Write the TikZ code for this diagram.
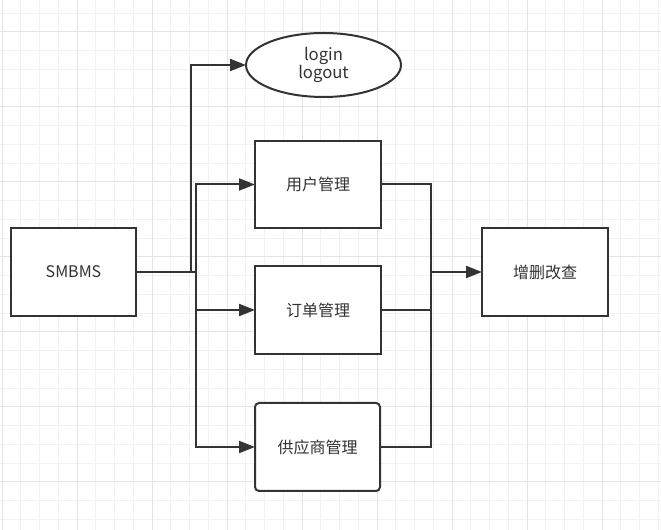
\documentclass[tikz,border=0pt]{standalone}
\usepackage{fontspec}
\newfontfamily\cjk{Noto Sans CJK SC}
\usetikzlibrary{arrows.meta}
\definecolor{ink}{HTML}{333333}
\definecolor{gridminor}{HTML}{F2F2F2}
\definecolor{gridmajor}{HTML}{E4E4E4}
\tikzset{
  box/.style={draw=ink, line width=1.5pt, fill=white, inner sep=0pt, outer sep=0pt,
    font=\cjk\fontsize{12}{14}\selectfont, text=ink, minimum width=94.5pt, minimum height=65.25pt},
  oval/.style={box, ellipse, minimum width=116.25pt, minimum height=48pt, align=center,
    font=\cjk\fontsize{12.5}{14}\selectfont},
  conn/.style={draw=ink, line width=1.5pt},
  arr/.style={conn, -{Triangle[length=12pt, width=9pt]}}
}
\usetikzlibrary{shapes.geometric}
\begin{document}
\begin{tikzpicture}[x=0.75pt, y=-0.75pt]
\useasboundingbox (0,0) rectangle (661,530);
\fill[white] (0,0) rectangle (661,530);
% grid
\foreach \k in {0,...,35} {
  \pgfmathsetmacro{\gx}{2+18.75*\k}
  \draw[gridminor, line width=0.75pt] (\gx,0) -- (\gx,530);
}
\foreach \k in {0,...,27} {
  \pgfmathsetmacro{\gy}{13.25+18.75*\k}
  \draw[gridminor, line width=0.75pt] (0,\gy) -- (661,\gy);
}
\foreach \k in {0,...,8} {
  \pgfmathsetmacro{\gx}{2+75*\k}
  \draw[gridmajor, line width=0.75pt] (\gx,0) -- (\gx,530);
}
\foreach \k in {0,...,6} {
  \pgfmathsetmacro{\gy}{32+75*\k}
  \draw[gridmajor, line width=0.75pt] (0,\gy) -- (661,\gy);
}
% nodes
\node[box, minimum width=93.75pt, minimum height=66pt] (smbms) at (73.5,272) {SMBMS};
\node[box] (user) at (318,184.5) {用户管理};
\node[box, minimum height=66pt] (order) at (318,310) {订单管理};
\node[box, rounded corners=3pt, minimum width=93.75pt, minimum height=66pt] (supplier) at (317.5,447) {供应商管理};
\node[box, minimum height=66pt] (crud) at (545,272) {增删改查};
\node[oval] (login) at (323.5,65) {login\\logout};
% junctions
\coordinate (ja) at (191,65);
\coordinate (jb) at (196,184.5);
\coordinate (jc) at (196,310);
\coordinate (jd) at (196,447);
\coordinate (jr) at (431,272);
% connectors
\draw[arr] (smbms.east) -| (ja) -- (login.west);
\draw[arr] (smbms.east) -| (jb) -- (user.west);
\draw[arr] (smbms.east) -| (jc) -- (order.west);
\draw[arr] (smbms.east) -| (jd) -- (supplier.west);
\draw[conn] (user.east) -| (jr);
\draw[conn] (order.east) -| (jr);
\draw[conn] (supplier.east) -| (jr);
\draw[arr] (jr) -- (crud.west);
\end{tikzpicture}
\end{document}
